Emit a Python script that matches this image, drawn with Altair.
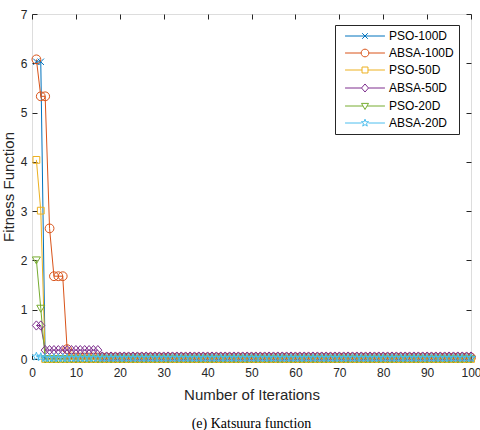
import altair as alt
import pandas as pd

# ---- data ----
iterations = list(range(1, 101))
series_names = ["PSO-100D", "ABSA-100D", "PSO-50D", "ABSA-50D", "PSO-20D", "ABSA-20D"]
pso_100d = [6.03, 6.03] + [0.01] * 98
absa_100d = [6.08, 5.33, 5.33, 2.65, 1.68, 1.68, 1.68, 0.20] + [0.03] * 92
pso_50d = [4.04, 3.01] + [0.0] * 98
absa_50d = [0.68, 0.68] + [0.18] * 13 + [0.05] * 85
pso_20d = [2.01, 1.03] + [0.0] * 98
absa_20d = [0.05, 0.04] + [0.02] * 98
x_ticks = list(range(0, 101, 10))
y_ticks = list(range(0, 8))

all_values = [pso_100d, absa_100d, pso_50d, absa_50d, pso_20d, absa_20d]
rows = []
for name, vals in zip(series_names, all_values):
    for it, v in zip(iterations, vals):
        rows.append({"iteration": it, "value": v, "series": name})
df = pd.DataFrame(rows)

# ---- styles ----
colors = ["#0072BD", "#D95319", "#EDB120", "#7E2F8E", "#77AC30", "#4DBEEE"]
marker_paths = [
    "M-0.8,-0.8L0.8,0.8M-0.8,0.8L0.8,-0.8",
    "M1.1,0A1.1,1.1,0,1,1,-1.1,0A1.1,1.1,0,1,1,1.1,0Z",
    "M-0.85,-0.85H0.85V0.85H-0.85Z",
    "M0,-1.15L1.0,0L0,1.15L-1.0,0Z",
    "M-1.0,-0.75L1.0,-0.75L0,1.0Z",
    "M0,-1.1L0.26,-0.36L1.05,-0.34L0.43,0.14L0.65,0.89L0,0.45L-0.65,0.89L-0.43,0.14L-1.05,-0.34L-0.26,-0.36Z",
]
legend_paths = [
    "M-5.7,0H5.7M-0.8,-0.8L0.8,0.8M-0.8,0.8L0.8,-0.8",
    "M-5.7,0H-1.1M1.1,0H5.7M1.1,0A1.1,1.1,0,1,1,-1.1,0A1.1,1.1,0,1,1,1.1,0Z",
    "M-5.7,0H-0.85M0.85,0H5.7M-0.85,-0.85H0.85V0.85H-0.85Z",
    "M-5.7,0H-1.0M1.0,0H5.7M0,-1.15L1.0,0L0,1.15L-1.0,0Z",
    "M-5.7,0H-0.6M0.6,0H5.7M-1.0,-0.75L1.0,-0.75L0,1.0Z",
    "M-5.7,0H-1.0M1.0,0H5.7M0,-1.1L0.26,-0.36L1.05,-0.34L0.43,0.14L0.65,0.89L0,0.45L-0.65,0.89L-0.43,0.14L-1.05,-0.34L-0.26,-0.36Z",
]

SANS = "Liberation Sans"
AX = "#262626"

x_scale = alt.Scale(domain=[0, 100], nice=False, zero=False)
y_scale = alt.Scale(domain=[0, 7], nice=False, zero=False)
color_scale = alt.Scale(domain=series_names, range=colors)


def label_axis(orient, title, values, lpad, tpad):
    return alt.Axis(
        orient=orient, values=values, ticks=False, tickSize=0, domain=False, grid=False,
        labelFont=SANS, labelFontSize=12, labelColor=AX, labelPadding=lpad,
        labelFlush=False, labelOverlap=False,
        title=title, titleFont=SANS, titleFontSize=15, titleFontWeight="normal",
        titleColor=AX, titlePadding=tpad,
    )


def tick_axis(orient, values):
    return alt.Axis(
        orient=orient, values=values, labels=False, domain=False, grid=False,
        ticks=True, tickSize=5, offset=-5, tickColor=AX, tickWidth=1,
    )


base = alt.Chart(df)

lines = base.mark_line(strokeWidth=1).encode(
    x=alt.X("iteration:Q", scale=x_scale,
            axis=label_axis("bottom", "Number of Iterations", x_ticks, 8, 9)),
    y=alt.Y("value:Q", scale=y_scale,
            axis=label_axis("left", "Fitness Function", y_ticks, 5, 4)),
    color=alt.Color("series:N", scale=color_scale, legend=None),
)

points = base.mark_point(filled=False, size=64, strokeWidth=1, opacity=1).encode(
    x=alt.X("iteration:Q", scale=x_scale, axis=tick_axis("bottom", x_ticks), title=None),
    y=alt.Y("value:Q", scale=y_scale, axis=tick_axis("left", y_ticks), title=None),
    color=alt.Color("series:N", scale=color_scale, legend=None),
    shape=alt.Shape("series:N", scale=alt.Scale(domain=series_names, range=marker_paths), legend=None),
)

leg = alt.Legend(
    title=None, orient="none", legendX=303, legendY=11,
    strokeColor=AX, fillColor="white", padding=5, rowPadding=5,
    labelFont=SANS, labelFontSize=12, labelColor="black", labelAlign="left",
    symbolSize=49, symbolStrokeWidth=1, symbolOffset=19, labelOffset=18,
)

legend_layer = base.transform_filter("false").mark_point(filled=False, strokeWidth=1, opacity=1).encode(
    x=alt.X("iteration:Q", scale=x_scale, axis=tick_axis("top", x_ticks), title=None),
    y=alt.Y("value:Q", scale=y_scale, axis=tick_axis("right", y_ticks), title=None),
    color=alt.Color("series:N", scale=color_scale, legend=leg),
    shape=alt.Shape("series:N", scale=alt.Scale(domain=series_names, range=legend_paths), legend=leg),
)

chart = (
    alt.layer(lines, points, legend_layer)
    .resolve_scale(shape="independent", color="independent")
    .resolve_axis(x="independent", y="independent")
    .properties(
        width=439, height=345,
        autosize=alt.AutoSizeParams(type="none"),
        padding={"left": 32, "top": 14, "right": 9, "bottom": 71},
        title=alt.TitleParams(
            "(e) Katsuura function", orient="bottom", font="Liberation Serif",
            fontSize=14, fontWeight="normal", color="black", offset=15,
        ),
    )
    .configure_view(stroke=AX, strokeWidth=1)
    .configure(background="white")
)

chart.save("out.html", embed_options={"renderer": "svg", "actions": False})
